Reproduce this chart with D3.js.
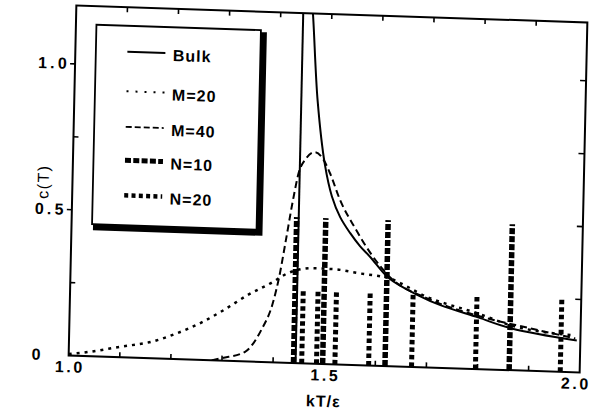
<!DOCTYPE html>
<html><head><meta charset="utf-8">
<script src="https://cdn.jsdelivr.net/npm/d3@7"></script>
<style>
html,body{margin:0;padding:0;background:#fff;}
svg{display:block;}
text{font-family:"Liberation Sans",Arial,Helvetica,sans-serif;fill:#000;}
</style></head>
<body>
<svg id="chart" width="595" height="415"></svg>
<script>
// ---- data ----
const xTickValues = [1.0, 1.5, 2.0];
const xTickLabels = ["1.0", "1.5", "2.0"];
const yTickValues = [0, 0.5, 1.0];
const yTickLabels = ["0", "0.5", "1.0"];
const xLabel = "kT/\u03b5";
const yLabel = "c(T)";

// Bulk: branch below Tc (vertical) and branch above Tc
const bulkLowT = [1.444, 1.444];
const bulkLowC = [0.0, 1.3];
const bulkHighT = [1.457, 1.463, 1.476, 1.493, 1.508, 1.525, 1.545, 1.565, 1.586, 1.623, 1.681, 1.726, 1.799, 1.865, 1.993];
const bulkHighC = [1.30, 1.20, 0.90, 0.682, 0.575, 0.505, 0.452, 0.408, 0.371, 0.301, 0.246, 0.214, 0.177, 0.143, 0.109];

const m20T = [1.0, 1.04, 1.10, 1.16, 1.21, 1.258, 1.30, 1.348, 1.396, 1.425, 1.475, 1.515, 1.563, 1.623, 1.70, 1.798, 1.865, 1.99];
const m20C = [0.005, 0.015, 0.036, 0.056, 0.088, 0.128, 0.172, 0.228, 0.275, 0.307, 0.327, 0.326, 0.315, 0.301, 0.24, 0.191, 0.153, 0.126];

const m40T = [1.28, 1.30, 1.344, 1.3755, 1.397, 1.408, 1.419, 1.432, 1.442, 1.455, 1.473, 1.488, 1.503, 1.524, 1.555, 1.586, 1.625, 1.70, 1.80, 1.90, 1.99];
const m40C = [0.0, 0.009, 0.032, 0.109, 0.203, 0.29, 0.41, 0.558, 0.652, 0.70, 0.725, 0.705, 0.655, 0.564, 0.468, 0.385, 0.305, 0.236, 0.182, 0.146, 0.116];

const n10T = [1.440, 1.497, 1.619, 1.862];
const n10C = [0.50, 0.50, 0.50, 0.50];
const n20T = [1.456, 1.485, 1.521, 1.587, 1.671, 1.796, 1.962];
const n20C = [0.25, 0.25, 0.25, 0.25, 0.25, 0.25, 0.25];

const legendLabels = ["Bulk", "M=20", "M=40", "N=10", "N=20"];

// ---- layout ----
const L = 72.5, R = 583.5, T = 14, B = 364;
const cx = 328, cy = 189;
const svg = d3.select("#chart");
svg.append("rect").attr("width", 595).attr("height", 415).attr("fill", "#fff");

// slight skew of the scanned page
const g = svg.append("g")
  .attr("transform", `matrix(1,0.033,-0.022,1,${0.022*cy},${-0.033*cx})`);

const x = d3.scaleLinear().domain([1.0, 2.0]).range([L, R]);
const y = d3.scaleLinear().domain([0, 1.2]).range([B, T]);

g.append("clipPath").attr("id", "clip")
  .append("rect").attr("x", L).attr("y", T).attr("width", R - L).attr("height", B - T);

const styles = {
  bulk: {w: 2, dash: null},
  m20: {w: 2.5, dash: "3,5"},
  m40: {w: 2, dash: "7,4"},
  n10: {w: 5.5, dash: "6,2"},
  n20: {w: 5, dash: "4.5,3"}
};

const zip = (a, b) => a.map((v, i) => [v, b[i]]);
const lineLin = d3.line().x(d => x(d[0])).y(d => y(d[1]));
const lineSmooth = d3.line().x(d => x(d[0])).y(d => y(d[1])).curve(d3.curveMonotoneX);
const lineCR = d3.line().x(d => x(d[0])).y(d => y(d[1])).curve(d3.curveCatmullRom.alpha(0.5));

const plot = g.append("g").attr("clip-path", "url(#clip)");

function drawPath(data, gen, st) {
  const p = plot.append("path").attr("d", gen(data)).attr("fill", "none")
    .attr("stroke", "#000").attr("stroke-width", st.w);
  if (st.dash) p.attr("stroke-dasharray", st.dash);
  return p;
}

// vertical bars (N=10 and N=20)
function drawBars(ts, cs, st) {
  plot.append("g").selectAll("line").data(zip(ts, cs)).join("line")
    .attr("x1", d => x(d[0])).attr("x2", d => x(d[0]))
    .attr("y1", y(0)).attr("y2", d => y(d[1]))
    .attr("stroke", "#000").attr("stroke-width", st.w)
    .attr("stroke-dasharray", st.dash);
}
drawBars(n10T, n10C, styles.n10);
drawBars(n20T, n20C, styles.n20);

drawPath(zip(m20T, m20C), lineSmooth, styles.m20);
drawPath(zip(m40T, m40C), lineSmooth, styles.m40);
drawPath(zip(bulkLowT, bulkLowC), lineLin, styles.bulk);
drawPath(zip(bulkHighT, bulkHighC), lineCR, styles.bulk);

// ---- frame & ticks ----
g.append("rect").attr("x", L).attr("y", T).attr("width", R - L).attr("height", B - T)
  .attr("fill", "none").attr("stroke", "#000").attr("stroke-width", 2);

const xMinor = d3.range(1.1, 1.95, 0.1);
const ticks = g.append("g").attr("stroke", "#000").attr("stroke-width", 1.6);
xMinor.forEach(v => {
  ticks.append("line").attr("x1", x(v)).attr("x2", x(v)).attr("y1", B).attr("y2", B - 5);
  ticks.append("line").attr("x1", x(v)).attr("x2", x(v)).attr("y1", T).attr("y2", T + 5);
});
const yAll = [0.25, 0.5, 0.75, 1.0];
yAll.forEach(v => {
  const major = yTickValues.includes(v);
  ticks.append("line").attr("x1", major ? L - 5 : L).attr("x2", major ? L : L + 5)
    .attr("y1", y(v)).attr("y2", y(v));
  ticks.append("line").attr("x1", R).attr("x2", R - 6).attr("y1", y(v)).attr("y2", y(v));
});

// tick labels (last one kept inside the page edge)
g.append("g").selectAll("text").data(xTickValues).join("text")
  .attr("x", (d, i) => i === xTickValues.length - 1 ? Math.min(x(d) + 1.5, 580) : x(d) + 1.5)
  .attr("y", 375).attr("dy", "0.36em")
  .attr("text-anchor", "middle").attr("font-size", 16).attr("font-weight", "bold")
  .attr("letter-spacing", 2.6)
  .text((d, i) => xTickLabels[i]);

g.append("g").selectAll("text").data(yTickValues).join("text")
  .attr("x", 35.5).attr("y", d => y(d) - 0.5).attr("dy", "0.36em")
  .attr("text-anchor", "start").attr("font-size", 16).attr("font-weight", "bold")
  .attr("letter-spacing", 3.2)
  .text((d, i) => yTickLabels[i]);

// axis titles
g.append("text").attr("x", x(1.5)).attr("y", 401).attr("dy", "0.36em")
  .attr("text-anchor", "middle").attr("font-size", 16).attr("font-weight", "bold")
  .attr("letter-spacing", 1).text(xLabel);

g.append("text").attr("transform", "translate(43,191) rotate(-90)")
  .attr("dy", "0.36em").attr("text-anchor", "middle").attr("font-size", 16)
  .attr("letter-spacing", 1.5).text(yLabel);

// ---- legend ----
const lx1 = 93, ly1 = 32.5, lx2 = 257.5, ly2 = 232;
const leg = g.append("g");
leg.append("rect").attr("x", lx1).attr("y", ly1).attr("width", lx2 - lx1).attr("height", ly2 - ly1)
  .attr("fill", "#fff").attr("stroke", "#000").attr("stroke-width", 1.8);
leg.append("path")
  .attr("d", `M${lx2 + 3},${ly1 + 2}V${ly2 + 6}M${lx1 + 1},${ly2 + 3}H${lx2 + 6}`)
  .attr("stroke", "#000").attr("stroke-width", 6).attr("fill", "none");

const legY = [60.5, 100, 135.5, 169, 204];
const legStyles = [styles.bulk, {w: 2, dash: "2,7"}, {w: 1.8, dash: "6,3"}, {w: 5, dash: "6,2.3"}, {w: 4.5, dash: "4,3.3"}];
legendLabels.forEach((lab, i) => {
  const st = legStyles[i];
  const ln = leg.append("line").attr("x1", 124.5).attr("x2", 162.5)
    .attr("y1", legY[i] - 2).attr("y2", legY[i] - 2)
    .attr("stroke", "#000").attr("stroke-width", st.w);
  if (st.dash) ln.attr("stroke-dasharray", st.dash);
  leg.append("text").attr("x", 170).attr("y", legY[i]).attr("dy", "0.36em")
    .attr("font-size", 16).attr("font-weight", "bold").attr("letter-spacing", 1)
    .text(lab);
});
</script>
</body></html>
